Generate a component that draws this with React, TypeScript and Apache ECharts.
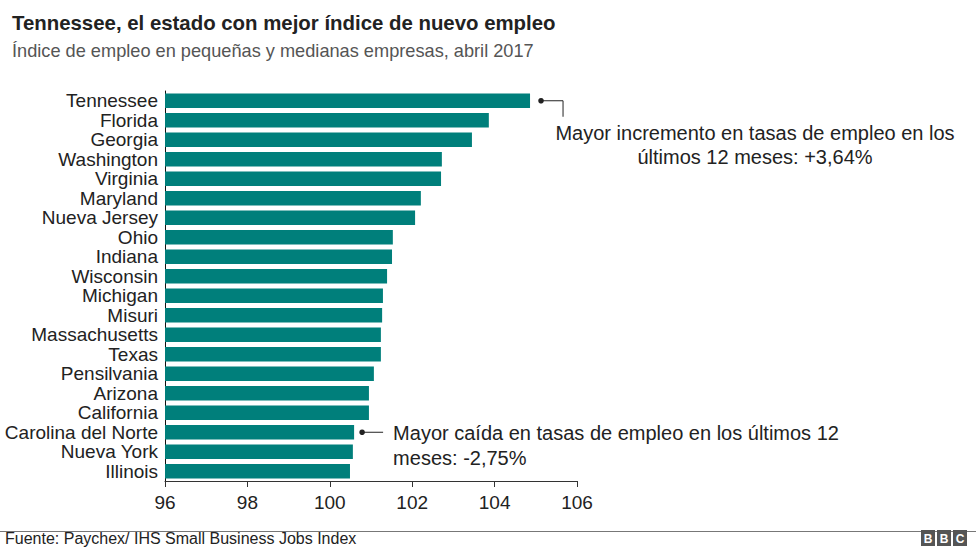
import React, { useEffect, useRef } from "react";
import * as echarts from "echarts";

const categories = [
  "Tennessee", "Florida", "Georgia", "Washington", "Virginia", "Maryland",
  "Nueva Jersey", "Ohio", "Indiana", "Wisconsin", "Michigan", "Misuri",
  "Massachusetts", "Texas", "Pensilvania", "Arizona", "California",
  "Carolina del Norte", "Nueva York", "Illinois",
];
const values = [
  104.86, 103.86, 103.45, 102.72, 102.7, 102.21, 102.07, 101.53, 101.51,
  101.39, 101.29, 101.27, 101.24, 101.24, 101.07, 100.95, 100.95, 100.59,
  100.56, 100.49,
];
const xTicks = [96, 98, 100, 102, 104, 106];
const titleText = "Tennessee, el estado con mejor índice de nuevo empleo";
const subtitleText = "Índice de empleo en pequeñas y medianas empresas, abril 2017";
const sourceText = "Fuente: Paychex/ IHS Small Business Jobs Index";
const topNote = "Mayor incremento en tasas de empleo en los\núltimos 12 meses: +3,64%";
const bottomNote = "Mayor caída en tasas de empleo en los últimos 12\nmeses: -2,75%";
const topIdx = 0;
const bottomIdx = 17;

const FONT = "'Liberation Sans', Arial, Helvetica, sans-serif";

export default function App() {
  const ref = useRef<HTMLDivElement>(null);
  useEffect(() => {
    if (!ref.current) return;
    const chart = echarts.init(ref.current, null, { renderer: "svg" });
    chart.setOption({
      animation: false,
      textStyle: { fontFamily: FONT },
      grid: { left: 165, right: 399, top: 91, bottom: 68, containLabel: false, outerBoundsMode: "none" },
      xAxis: {
        type: "value",
        min: xTicks[0],
        max: xTicks[xTicks.length - 1],
        interval: 2,
        axisLine: { show: true, lineStyle: { color: "#333", width: 1 } },
        axisTick: { show: true, length: 6, lineStyle: { color: "#333" } },
        axisLabel: { color: "#222", fontSize: 19, margin: 12, fontFamily: FONT },
        splitLine: { show: false },
      },
      yAxis: {
        type: "category",
        data: categories,
        inverse: true,
        axisLine: { show: true, lineStyle: { color: "#111", width: 1 } },
        axisTick: { show: false },
        axisLabel: { color: "#222", fontSize: 19, lineHeight: 17, margin: 7, interval: 0, fontFamily: FONT, padding: [0, 0, 2, 0] },
      },
      series: [
        {
          type: "bar",
          data: values,
          barCategoryGap: "25%",
          itemStyle: { color: "#007f7b" },
          silent: true,
        },
      ],
    });

    const [tx, ty] = chart.convertToPixel({ gridIndex: 0 }, [values[topIdx], topIdx]) as number[];
    const [bx, by] = chart.convertToPixel({ gridIndex: 0 }, [values[bottomIdx], bottomIdx]) as number[];

    const graphic: any[] = [
      { type: "text", left: 12, top: 13, style: { text: titleText, font: `bold 20.4px ${FONT}`, fill: "#222" } },
      { type: "text", left: 12, top: 42, style: { text: subtitleText, font: `18.2px ${FONT}`, fill: "#555" } },
      { type: "line", shape: { x1: 0, y1: 531.5, x2: 976, y2: 531.5 }, style: { stroke: "#777", lineWidth: 1 } },
      { type: "text", left: 5, top: 530, style: { text: sourceText, font: `16px ${FONT}`, fill: "#222" } },
      // top annotation
      { type: "circle", shape: { cx: tx + 11, cy: ty, r: 2.8 }, style: { fill: "#222" } },
      { type: "polyline", shape: { points: [[tx + 11, ty], [tx + 33, ty], [tx + 33, ty + 16]] }, style: { stroke: "#222", lineWidth: 1, fill: null } },
      { type: "text", x: 755, y: ty + 20, style: { text: topNote, font: `20px ${FONT}`, fill: "#222", align: "center", verticalAlign: "top", lineHeight: 24 } },
      // bottom annotation
      { type: "circle", shape: { cx: bx + 8, cy: by, r: 2.8 }, style: { fill: "#222" } },
      { type: "line", shape: { x1: bx + 8, y1: by, x2: bx + 29, y2: by }, style: { stroke: "#222", lineWidth: 1 } },
      { type: "text", x: bx + 39, y: by - 12, style: { text: bottomNote, font: `20px ${FONT}`, fill: "#222", align: "left", verticalAlign: "top", lineHeight: 25 } },
    ];
    // BBC logo
    ["B", "B", "C"].forEach((ch, i) => {
      const x0 = 921 + i * 16;
      graphic.push({ type: "rect", shape: { x: x0, y: 530, width: 14, height: 16 }, style: { fill: "#555" } });
      graphic.push({ type: "text", x: x0 + 7, y: 538.5, style: { text: ch, font: `bold 12px ${FONT}`, fill: "#fff", align: "center", verticalAlign: "middle" } });
    });
    chart.setOption({ graphic });

    return () => chart.dispose();
  }, []);
  return <div ref={ref} style={{ width: 976, height: 549, position: "absolute", left: 0, top: 0 }} />;
}
